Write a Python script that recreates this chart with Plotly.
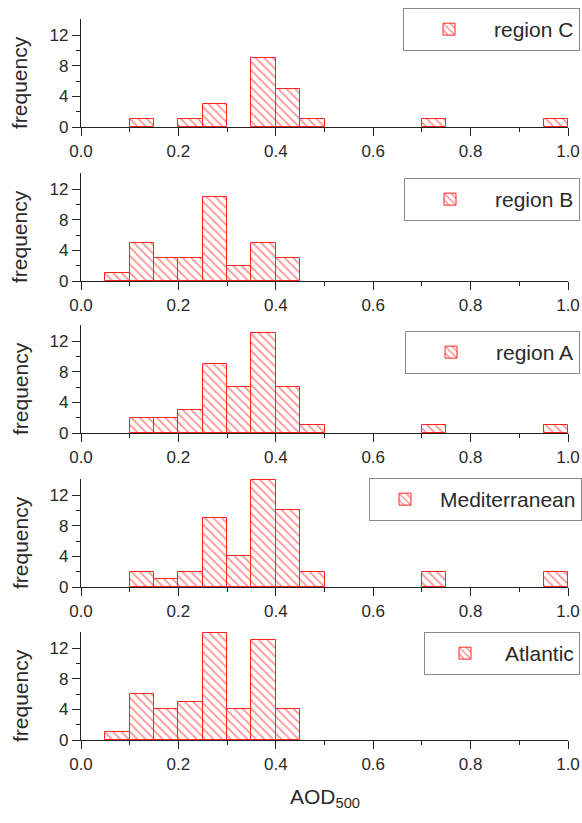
import plotly.graph_objects as go

# Histogram bins of AOD500 (left edges, width 0.05)
bin_left = [0.00, 0.05, 0.10, 0.15, 0.20, 0.25, 0.30, 0.35, 0.40, 0.45,
            0.50, 0.55, 0.60, 0.65, 0.70, 0.75, 0.80, 0.85, 0.90, 0.95]
bin_width = 0.05

# Counts per bin for each region (top panel to bottom panel)
region_c = [0, 0, 1, 0, 1, 3, 0, 9, 5, 1, 0, 0, 0, 0, 1, 0, 0, 0, 0, 1]
region_b = [0, 1, 5, 3, 3, 11, 2, 5, 3, 0, 0, 0, 0, 0, 0, 0, 0, 0, 0, 0]
region_a = [0, 0, 2, 2, 3, 9, 6, 13, 6, 1, 0, 0, 0, 0, 1, 0, 0, 0, 0, 1]
mediterranean = [0, 0, 2, 1, 2, 9, 4, 14, 10, 2, 0, 0, 0, 0, 2, 0, 0, 0, 0, 2]
atlantic = [0, 1, 6, 4, 5, 14, 4, 13, 4, 0, 0, 0, 0, 0, 0, 0, 0, 0, 0, 0]

panel_names = ["region C", "region B", "region A", "Mediterranean", "Atlantic"]
panel_counts = [region_c, region_b, region_a, mediterranean, atlantic]

x_ticks = [0.0, 0.2, 0.4, 0.6, 0.8, 1.0]
y_ticks = [0, 4, 8, 12]

W, H = 582, 823
FONT = "Liberation Sans, Arial, sans-serif"
RED = "#ff2424"
AXIS = "#222222"
TXT = "#2a2a2a"

# pixel layout of each panel: baseline row, plot height, legend box anchor
base_px = [127, 281, 433, 587, 740]
panel_h = 108
x_left, x_right = 81, 568
legend_anchor = [(580, 8), (580, 178), (580, 331), (582, 478), (580, 632)]
legend_itemw = [80, 80, 80, 60, 70]

fig = go.Figure()

for i, (name, counts) in enumerate(zip(panel_names, panel_counts)):
    n = i + 1
    sfx = "" if n == 1 else str(n)
    xs = [b + bin_width / 2 for b, c in zip(bin_left, counts) if c > 0]
    ys = [c for c in counts if c > 0]
    fig.add_trace(go.Bar(
        x=xs, y=ys, width=bin_width, name=name,
        xaxis="x" + sfx, yaxis="y" + sfx,
        legend="legend" + sfx,
        showlegend=True,
        marker=dict(
            color="white",
            line=dict(color=RED, width=1),
            pattern=dict(shape="\\", fgcolor=RED, bgcolor="white",
                         size=6, solidity=0.3),
        ),
    ))

    b = base_px[i]
    dom_y = [1 - b / H, 1 - (b - panel_h) / H]
    dom_x = [x_left / W, x_right / W]

    fig.layout["xaxis" + sfx] = dict(
        domain=dom_x, anchor="y" + sfx, range=[0, 1],
        tickvals=x_ticks, ticktext=[f"{v:.1f}" for v in x_ticks],
        ticks="outside", ticklen=8, tickwidth=1.3, tickcolor=AXIS,
        minor=dict(ticks="outside", ticklen=4, tickwidth=1.2,
                   tickcolor=AXIS, dtick=0.1, tick0=0),
        showline=True, linecolor=AXIS, linewidth=1.3,
        showgrid=False, zeroline=False, fixedrange=True,
        tickfont=dict(family=FONT, size=17, color=TXT),
        automargin=False,
    )
    fig.layout["yaxis" + sfx] = dict(
        domain=dom_y, anchor="x" + sfx, range=[0, 14.1],
        tickvals=y_ticks,
        ticks="outside", ticklen=8, tickwidth=1.3, tickcolor=AXIS,
        minor=dict(ticks="outside", ticklen=4, tickwidth=1.2,
                   tickcolor=AXIS, tickvals=[2, 6, 10]),
        showline=True, linecolor=AXIS, linewidth=1.3,
        showgrid=False, zeroline=False, fixedrange=True,
        tickfont=dict(family=FONT, size=17, color=TXT),
        automargin=False,
    )

    lx, ly = legend_anchor[i]
    fig.layout["legend" + sfx] = dict(
        x=lx / W, y=1 - ly / H, xanchor="right", yanchor="top",
        bgcolor="white", bordercolor="#8a8a8a", borderwidth=1,
        font=dict(family=FONT, size=21, color=TXT),
        itemwidth=legend_itemw[i],
        itemclick=False, itemdoubleclick=False,
    )

    fig.add_annotation(
        text="frequency", textangle=-90, showarrow=False,
        xref="paper", yref="paper",
        x=20 / W, y=1 - (b - panel_h / 2 + 10) / H,
        xanchor="center", yanchor="middle",
        font=dict(family=FONT, size=21, color=TXT),
    )

fig.add_annotation(
    text="AOD<sub>500</sub>", showarrow=False,
    xref="paper", yref="paper",
    x=(x_left + x_right) / 2 / W, y=1 - 798 / H,
    xanchor="center", yanchor="middle",
    font=dict(family=FONT, size=21, color=TXT),
)

fig.update_layout(
    width=W, height=H,
    margin=dict(l=0, r=0, t=0, b=0),
    paper_bgcolor="white", plot_bgcolor="white",
    bargap=0,
)

fig.write_html("out.html")
